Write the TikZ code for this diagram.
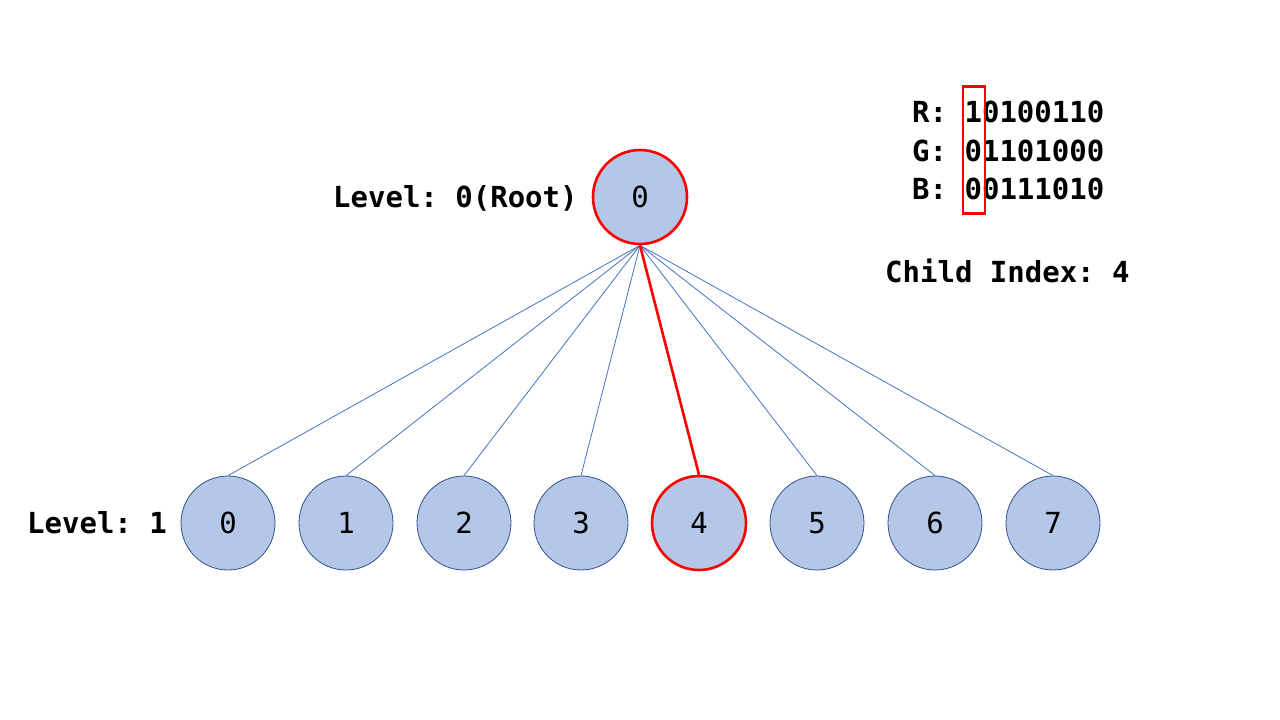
\documentclass[tikz,border=0pt]{standalone}
\usepackage{fontspec}
\setmonofont{DejaVu Sans Mono}
\begin{document}
\begin{tikzpicture}[x=1pt,y=-1pt,
  every node/.style={font=\ttfamily\fontsize{29}{35}\selectfont, inner sep=0pt},
  treenode/.style={circle, minimum size=94pt, fill=nodefill, draw=nodeedge, line width=0.8pt},
  picked/.style={draw=pickred, line width=2.6pt},
  link/.style={draw=linkblue, line width=0.8pt},
  pickedlink/.style={draw=pickred, line width=2.6pt},
  label/.style={font=\ttfamily\bfseries\fontsize{29}{35}\selectfont, anchor=west}]
\definecolor{nodefill}{HTML}{B4C7E7}
\definecolor{nodeedge}{HTML}{2F528F}
\definecolor{linkblue}{HTML}{4472C4}
\definecolor{pickred}{HTML}{FF0000}
\useasboundingbox (0,0) rectangle (1280,720);

% root of the octree
\node[treenode, picked] (root) at (640,197) {0};
\node[label] (lvl0) at (333,198) {Level: 0(Root)};

% first level children
\foreach \i/\x in {0/228,1/346,2/464,3/581,5/817,6/935,7/1053}
  \node[treenode] (c\i) at (\x,523) {\i};
\node[treenode, picked] (c4) at (699,523) {4};
\node[label] (lvl1) at (27,523) {Level: 1};

% links from the root to each child
\foreach \i in {0,1,2,3,5,6,7}
  \draw[link] (root.south) -- (c\i.north);
\draw[pickedlink] (root.south) -- (c4.north);

% colour bits and the selected column
\node[label] (rrow) at (912,112) {R: 10100110};
\node[label] (grow) at (912,151) {G: 01101000};
\node[label] (brow) at (912,189) {B: 00111010};
\node[draw=pickred, line width=2.6pt, minimum width=22pt, minimum height=127pt] (bitcol) at (974,150) {};

\node[label] (childidx) at (885,271) {Child Index: 4};
\end{tikzpicture}
\end{document}
